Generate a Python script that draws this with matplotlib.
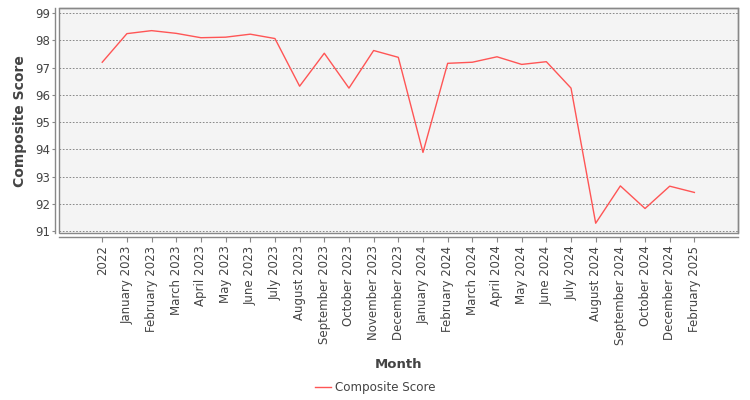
import numpy as np
import matplotlib
matplotlib.use("Agg")
import matplotlib.pyplot as plt
from matplotlib.patches import Rectangle

# data
months = ["2022", "January 2023", "February 2023", "March 2023", "April 2023",
          "May 2023", "June 2023", "July 2023", "August 2023", "September 2023",
          "October 2023", "November 2023", "December 2023", "January 2024",
          "February 2024", "March 2024", "April 2024", "May 2024", "June 2024",
          "July 2024", "August 2024", "September 2024", "October 2024",
          "December 2024", "February 2025"]
scores = [97.20, 98.25, 98.36, 98.26, 98.10, 98.12, 98.23, 98.07, 96.32, 97.53,
          96.25, 97.63, 97.38, 93.89, 97.16, 97.20, 97.40, 97.12, 97.22, 96.25,
          91.29, 92.66, 91.83, 92.65, 92.42]
y_ticks = [91, 92, 93, 94, 95, 96, 97, 98, 99]

text_col = "#444444"
grey = "#888888"

fig = plt.figure(figsize=(7.5, 4), dpi=100)
ax = fig.add_axes([59.3 / 750, 1 - 233.3 / 400, 679 / 750, 225 / 400])
ax.set_facecolor("#f4f4f4")

x = np.arange(len(months))
ax.plot(x, scores, color="#ff5555", lw=1.0, label="Composite Score", zorder=3)

ax.set_xlim(-1.74, len(months) - 1 + 1.78)
ax.set_ylim(90.92, 99.18)
ax.set_yticks(y_ticks)
ax.set_xticks(x)
ax.set_xticklabels(months)
ax.tick_params(axis="y", labelsize=8.5, labelcolor=text_col, length=2,
               width=0.8, color=grey, pad=2)
ax.tick_params(axis="x", length=3.5, width=0.8, color=grey, pad=2.5,
               labelsize=8.5, labelcolor=text_col, labelrotation=90)

# dashed horizontal gridlines
ax.grid(axis="y", color="#777777", lw=0.6, ls=(0, (2, 2)))
ax.set_axisbelow(True)

# plot box plus offset axis lines
for side in ["top", "right"]:
    ax.spines[side].set_color(grey)
    ax.spines[side].set_linewidth(1.0)
for side in ["left", "bottom"]:
    ax.spines[side].set_position(("outward", 2.8))
    ax.spines[side].set_color(grey)
    ax.spines[side].set_linewidth(1.0)
ax.add_patch(Rectangle((0, 0), 1, 1, transform=ax.transAxes, fill=False,
                       ec=grey, lw=1.0, clip_on=False, zorder=4))

ax.set_ylabel("Composite Score", fontsize=10, fontweight="bold", color=text_col)
ax.yaxis.set_label_coords(-0.058, 0.5)
ax.yaxis.label.set_va("center")
ax.set_xlabel("Month", fontsize=9.5, fontweight="bold", color=text_col)
ax.xaxis.set_label_coords(0.5, -0.581)
ax.xaxis.label.set_va("center")

fig.legend(loc="center", bbox_to_anchor=(0.5, 1 - 388 / 400), frameon=False,
           fontsize=8.6, handlelength=1.35, handletextpad=0.35,
           labelcolor=text_col)

fig.savefig("out.png", dpi=100)
